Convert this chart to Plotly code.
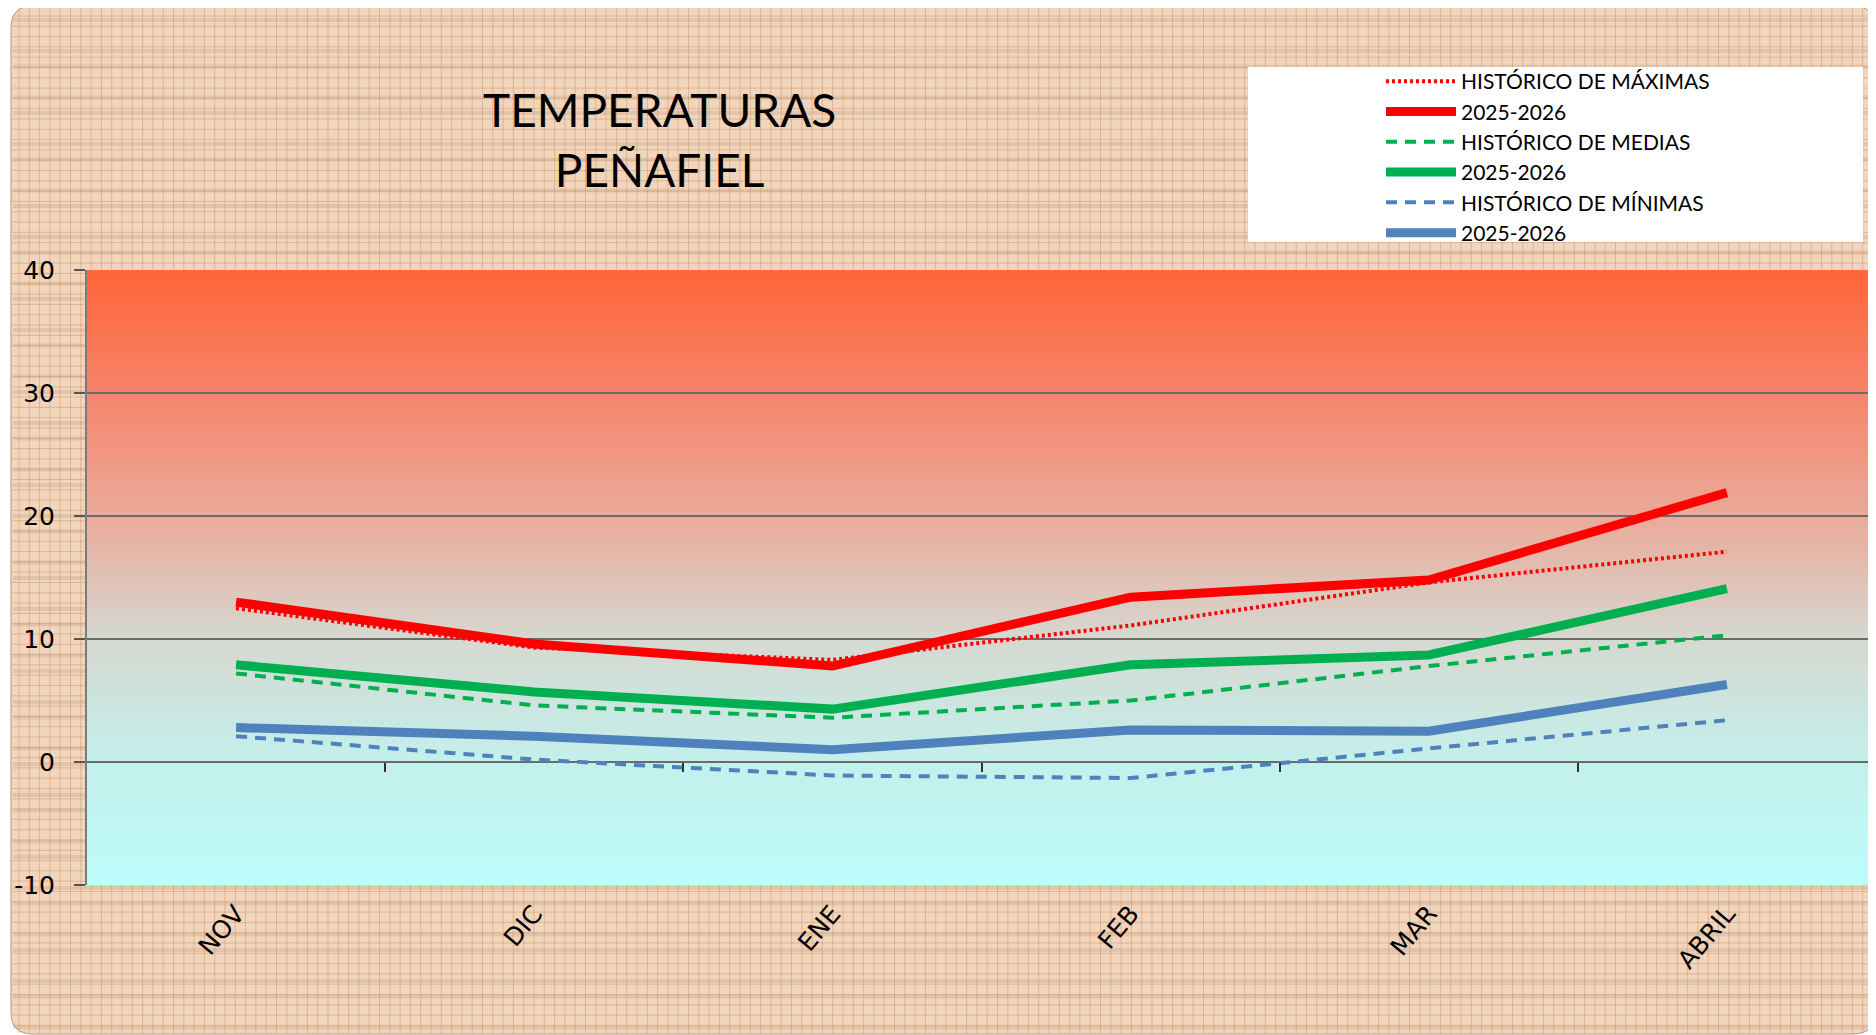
import plotly.graph_objects as go

# ---------------- data ----------------
months = ["NOV", "DIC", "ENE", "FEB", "MAR", "ABRIL"]
hist_max = [12.5, 9.3, 8.3, 11.1, 14.6, 17.1]
cur_max = [13.0, 9.6, 7.8, 13.4, 14.8, 21.9]
hist_med = [7.2, 4.6, 3.6, 5.0, 7.8, 10.3]
cur_med = [7.9, 5.7, 4.3, 7.9, 8.7, 14.1]
hist_min = [2.1, 0.2, -1.1, -1.3, 1.1, 3.4]
cur_min = [2.8, 2.1, 1.0, 2.6, 2.5, 6.3]
y_ticks = [-10, 0, 10, 20, 30, 40]
y_tick_labels = ["-10", "0", "10", "20", "30", "40"]
title_lines = ["TEMPERATURAS", "PEÑAFIEL"]
legend_names = ["HISTÓRICO DE MÁXIMAS", "2025-2026", "HISTÓRICO DE MEDIAS",
                "2025-2026", "HISTÓRICO DE MÍNIMAS", "2025-2026"]

# ---------------- layout geometry (page pixels) ----------------
OFF = 8                       # default body margin of the page
W, H = 1876 - OFF, 1035 - OFF
PLOT_L, PLOT_R, PLOT_T, PLOT_B = 87, 1876, 270, 885   # page coords
ML, MR = PLOT_L - OFF, 0
MT, MB = PLOT_T - OFF, (H + OFF) - PLOT_B
PW, PH = PLOT_R - PLOT_L, PLOT_B - PLOT_T


def px2x(px):
    return (px - PLOT_L) / PW


def py2y(py):
    return (PLOT_B - py) / PH


RED = "#ff0000"
GREEN = "#00b050"
BLUE = "#4f81bd"

fig = go.Figure()

series = [
    (hist_max, RED, 4, "3px,3px"),
    (cur_max, RED, 9, "solid"),
    (hist_med, GREEN, 4, "11px,8px"),
    (cur_med, GREEN, 9, "solid"),
    (hist_min, BLUE, 4, "11px,8px"),
    (cur_min, BLUE, 9, "solid"),
]
for (vals, col, w, dash), name in zip(series, legend_names):
    fig.add_trace(go.Scatter(
        x=months, y=vals, mode="lines", name=name,
        line=dict(color=col, width=w, dash=dash),
    ))

# invisible helper trace for the secondary (tick) axis
fig.add_trace(go.Scatter(x=months, y=hist_max, xaxis="x2", mode="lines",
                         opacity=0, showlegend=False, hoverinfo="skip"))

shapes = []

# outer rounded "paper" background
x0p, y0p, x1p, y1p = 11, 6, 1875, 1034
r = 22
rx, ry = r / PW, r / PH
X0, X1 = px2x(x0p), px2x(x1p)
Y0, Y1 = py2y(y0p), py2y(y1p)  # Y0 top, Y1 bottom
path = (f"M {X0+rx},{Y0} L {X1-rx},{Y0} Q {X1},{Y0} {X1},{Y0-ry} "
        f"L {X1},{Y1+ry} Q {X1},{Y1} {X1-rx},{Y1} "
        f"L {X0+rx},{Y1} Q {X0},{Y1} {X0},{Y1+ry} "
        f"L {X0},{Y0-ry} Q {X0},{Y0} {X0+rx},{Y0} Z")
shapes.append(dict(type="path", xref="paper", yref="paper", path=path,
                   fillcolor="#f1d5bd", line=dict(color="#b89478", width=1),
                   layer="below"))

# wood-grain streaks (horizontal, soft)
streaks = []
gy = y0p + 14
k = 0
while gy < y1p - 4:
    if k % 3 != 1:
        streaks.append(f"M {px2x(x0p+2)},{py2y(gy)} L {px2x(x1p-2)},{py2y(gy)}")
    gy += 15.5
    k += 1
shapes.append(dict(type="path", xref="paper", yref="paper", path=" ".join(streaks),
                   line=dict(color="rgba(150,110,80,0.16)", width=4),
                   layer="below"))

# graph-paper grid texture
step = 10.3
segs = []
gx = x0p + 8
while gx < x1p - 2:
    segs.append(f"M {px2x(gx)},{py2y(y0p+1)} L {px2x(gx)},{py2y(y1p-1)}")
    gx += step
gy = y0p + 10
while gy < y1p - 2:
    segs.append(f"M {px2x(x0p+1)},{py2y(gy)} L {px2x(x1p-1)},{py2y(gy)}")
    gy += step
shapes.append(dict(type="path", xref="paper", yref="paper", path=" ".join(segs),
                   line=dict(color="rgba(200,135,85,0.42)", width=1),
                   layer="below"))

# plot-area vertical gradient (strips)
stops = [(-10, (188, 252, 250)), (0, (196, 240, 236)), (10, (214, 216, 208)),
         (20, (234, 170, 154)), (30, (246, 132, 106)), (40, (255, 101, 56))]


def grad_color(v):
    for (a, ca), (b, cb) in zip(stops[:-1], stops[1:]):
        if a <= v <= b:
            t = (v - a) / (b - a)
            c = [round(ca[i] + (cb[i] - ca[i]) * t) for i in range(3)]
            return f"rgb({c[0]},{c[1]},{c[2]})"
    return "rgb(255,101,56)"


n = 100
lo, hi = y_ticks[0], y_ticks[-1]
dy = (hi - lo) / n
for i in range(n):
    a = lo + i * dy
    shapes.append(dict(type="rect", xref="paper", yref="y", x0=0, x1=1,
                       y0=a, y1=min(hi, a + dy * 1.6),
                       fillcolor=grad_color(a + dy / 2), line=dict(width=0),
                       layer="below"))

# legend white box
shapes.append(dict(type="rect", xref="paper", yref="paper",
                   x0=px2x(1248), x1=px2x(1863), y0=py2y(242), y1=py2y(67),
                   fillcolor="white", line=dict(width=0), layer="below"))

fig.update_layout(
    width=W, height=H,
    margin=dict(l=ML, r=MR, t=MT, b=MB, autoexpand=False),
    paper_bgcolor="white",
    plot_bgcolor="rgba(0,0,0,0)",
    shapes=shapes,
    showlegend=True,
    legend=dict(x=px2x(1381), y=py2y(61), xanchor="left", yanchor="top",
                bgcolor="rgba(0,0,0,0)", itemwidth=70, tracegroupgap=0,
                font=dict(family="Lato", size=21, color="black"),
                traceorder="normal"),
    annotations=[dict(text="<br>".join(title_lines), xref="paper", yref="paper",
                      x=px2x(659), y=py2y(139), xanchor="center", yanchor="middle",
                      showarrow=False,
                      font=dict(family="Lato", size=46, color="black"))],
    xaxis=dict(type="category", range=[-0.5, 5.5], tickangle=-50, ticks="",
               showgrid=False, zeroline=False, showline=False,
               tickfont=dict(family="DejaVu Sans", size=25, color="black"),
               ticklabelstandoff=8),
    xaxis2=dict(type="category", overlaying="x", anchor="free", position=0.2,
                range=[-0.5, 5.5], tickvals=[0.5, 1.5, 2.5, 3.5, 4.5],
                ticks="outside", ticklen=9, tickwidth=1.5, tickcolor="#333",
                showticklabels=False, showgrid=False, zeroline=False,
                showline=False, side="bottom"),
    yaxis=dict(range=[lo, hi], tickvals=y_ticks, ticktext=y_tick_labels,
               ticks="outside", ticklen=11,
               tickwidth=1.5, tickcolor="#555", showline=True,
               linecolor="#7a7a7a", linewidth=2, showgrid=True,
               gridcolor="#6a6a6a", gridwidth=1.5, zeroline=False,
               tickfont=dict(family="DejaVu Sans", size=25, color="black"),
               ticklabelstandoff=14),
)

fig.write_html("out.html")
